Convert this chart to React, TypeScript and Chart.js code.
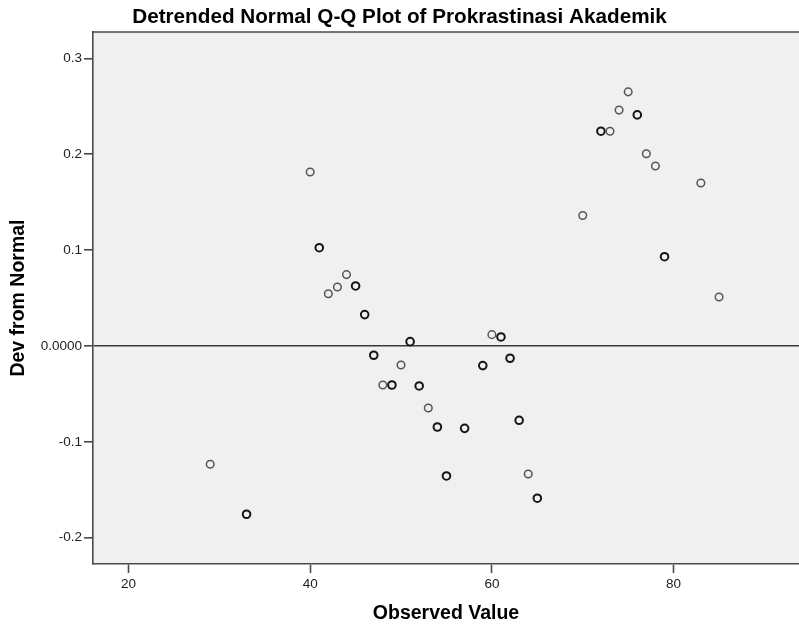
import React, { useEffect, useRef } from "react";
import { Chart, registerables } from "chart.js";

Chart.register(...registerables);

const chartTitle = "Detrended Normal Q-Q Plot of Prokrastinasi Akademik";
const xAxisTitle = "Observed Value";
const yAxisTitle = "Dev from Normal";

// Observed values and their deviation from normal
const observed = [29, 33, 40, 41, 42, 43, 44, 45, 46, 47, 48, 49, 50, 51, 52, 53, 54, 55, 57, 59, 60, 61, 62, 63, 64, 65, 70, 72, 73, 74, 75, 76, 77, 78, 79, 83, 85];
const deviation = [-0.1234, -0.1755, 0.1814, 0.1025, 0.0545, 0.0615, 0.0744, 0.0626, 0.0327, -0.0097, -0.0407, -0.0407, -0.0198, 0.0045, -0.0417, -0.0647, -0.0845, -0.1356, -0.0859, -0.0205, 0.0118, 0.0094, -0.0128, -0.0775, -0.1335, -0.1588, 0.136, 0.224, 0.224, 0.246, 0.265, 0.241, 0.2005, 0.1877, 0.0931, 0.17, 0.0511];
// points drawn darker (several coinciding cases)
const repeated = [false, true, false, true, false, false, false, true, true, true, false, true, false, true, true, false, true, true, true, true, false, true, true, true, false, true, false, true, false, false, false, true, false, false, true, false, false];

const xTicks = [20, 40, 60, 80];
const yTicks = [-0.2, -0.1, 0, 0.1, 0.2, 0.3];
const yTickLabels = ["-0.2", "-0.1", "0.0000", "0.1", "0.2", "0.3"];

const X_MIN = 16.1;
const X_MAX = 93.8;
const Y_MIN = -0.2274;
const Y_MAX = 0.3274;

const FONT = "'Liberation Sans', Arial, sans-serif";

export default function App() {
  const ref = useRef<HTMLCanvasElement | null>(null);

  useEffect(() => {
    document.body.style.margin = "0";
    const canvas = ref.current;
    if (!canvas) return;

    const frame = {
      id: "frame",
      beforeDraw(chart: any) {
        const { ctx, chartArea } = chart;
        ctx.save();
        ctx.fillStyle = "#f0f0f0";
        ctx.fillRect(chartArea.left, chartArea.top, chartArea.right - chartArea.left, chartArea.bottom - chartArea.top);
        ctx.restore();
      },
      afterDraw(chart: any) {
        const { ctx, chartArea } = chart;
        ctx.save();
        ctx.strokeStyle = "#4a4a4a";
        ctx.lineWidth = 1.6;
        ctx.beginPath();
        ctx.moveTo(chartArea.left, chartArea.top);
        ctx.lineTo(chartArea.right, chartArea.top);
        ctx.stroke();
        ctx.restore();
      },
    };

    const chart = new Chart(canvas, {
      type: "scatter",
      data: {
        datasets: [
          {
            data: observed.map((x, i) => ({ x, y: deviation[i] })),
            pointStyle: "circle",
            pointRadius: 3.8,
            pointBackgroundColor: "rgba(0,0,0,0)",
            pointBorderColor: repeated.map((r) => (r ? "#151515" : "#555555")),
            pointBorderWidth: repeated.map((r) => (r ? 2 : 1.5)),
          },
        ],
      },
      options: {
        animation: false,
        responsive: false,
        devicePixelRatio: 1,
        layout: { autoPadding: false, padding: { left: 0, right: 0, top: 0, bottom: 0 } },
        plugins: {
          legend: { display: false },
          tooltip: { enabled: false },
          title: {
            display: true,
            text: chartTitle,
            color: "#000",
            font: { family: FONT, size: 20.7, weight: "bold", lineHeight: 1.2 },
            padding: { top: 5, bottom: 2.2 },
          },
        },
        scales: {
          x: {
            type: "linear",
            min: X_MIN,
            max: X_MAX,
            afterBuildTicks: (s: any) => {
              s.ticks = xTicks.map((v) => ({ value: v }));
            },
            afterFit: (s: any) => {
              s.height = 62;
              s.paddingLeft = 0;
              s.paddingRight = 0;
            },
            ticks: {
              color: "#222",
              font: { family: FONT, size: 13.5 },
              padding: 3,
              maxRotation: 0,
            },
            grid: {
              drawOnChartArea: false,
              drawTicks: true,
              tickLength: 9,
              tickColor: "#4a4a4a",
              tickWidth: 1.6,
            },
            border: { display: true, color: "#4a4a4a", width: 1.6 },
            title: {
              display: true,
              text: xAxisTitle,
              color: "#000",
              font: { family: FONT, size: 19.5, weight: "bold", lineHeight: 1.2 },
              padding: { top: 0, bottom: 1 },
            },
          },
          y: {
            type: "linear",
            min: Y_MIN,
            max: Y_MAX,
            afterBuildTicks: (s: any) => {
              s.ticks = yTicks.map((v) => ({ value: v }));
            },
            afterFit: (s: any) => {
              s.width = 93;
              s.paddingTop = 0;
              s.paddingBottom = 0;
            },
            ticks: {
              color: "#222",
              font: { family: FONT, size: 13.5 },
              padding: 2,
              callback: (v: any) => {
                const i = yTicks.findIndex((t) => Math.abs(t - Number(v)) < 1e-9);
                return i >= 0 ? yTickLabels[i] : "";
              },
            },
            grid: {
              drawOnChartArea: true,
              drawTicks: true,
              tickLength: 9,
              color: (c: any) => (c.tick && Math.abs(c.tick.value) < 1e-9 ? "#3a3a3a" : "rgba(0,0,0,0)"),
              lineWidth: 1.6,
              tickColor: "#4a4a4a",
              tickWidth: 1.6,
            },
            border: { display: true, color: "#4a4a4a", width: 1.6 },
            title: {
              display: true,
              text: yAxisTitle,
              color: "#000",
              font: { family: FONT, size: 19.5, weight: "bold", lineHeight: 1.2 },
              padding: { top: 7, bottom: 0 },
            },
          },
        },
      },
      plugins: [frame],
    } as any);

    return () => chart.destroy();
  }, []);

  return (
    <div style={{ position: "absolute", left: 0, top: 0, width: 799, height: 626, background: "#fff" }}>
      <canvas ref={ref} width={799} height={626} style={{ width: 799, height: 626, display: "block" }} />
    </div>
  );
}
